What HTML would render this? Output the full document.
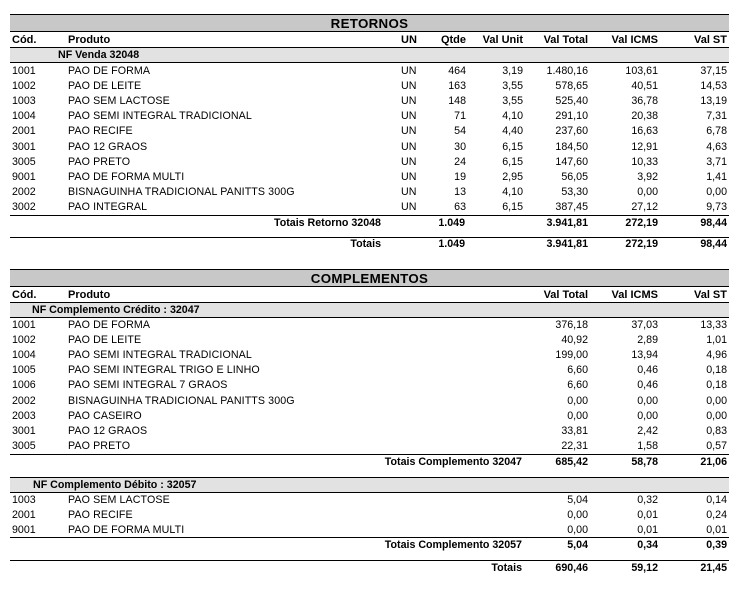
<!DOCTYPE html>
<html><head><meta charset="utf-8">
<style>
html,body{margin:0;padding:0;background:#fff;}
body{width:750px;height:614px;position:relative;overflow:hidden;font-family:"Liberation Sans",Arial,sans-serif;color:#000;}
.t{position:absolute;height:14px;line-height:14px;white-space:nowrap;font-size:10.67px;}
.r{text-align:right;width:140px;}
.b{font-weight:bold;}
.hd{font-weight:bold;font-size:11px;}
.h{position:absolute;left:10px;width:719px;height:1px;background:#000;}
.band{position:absolute;left:10px;width:719px;background:#c8c8c8;}
.nf{position:absolute;left:10px;width:719px;background:#e2e2e2;}
.title{position:absolute;left:10px;width:719px;text-align:center;font-weight:bold;font-size:13.33px;letter-spacing:0.3px;height:16px;line-height:17px;}
</style></head><body>

<!-- RETORNOS -->
<div class="h" style="top:14px"></div>
<div class="band" style="top:15px;height:16px"></div>
<div class="title" style="top:15px">RETORNOS</div>
<div class="h" style="top:31px"></div>

<div class="t hd" style="left:12px;top:33px">Cód.</div>
<div class="t hd" style="left:68px;top:33px">Produto</div>
<div class="t hd" style="left:401px;top:33px">UN</div>
<div class="t hd r" style="left:326px;top:33px">Qtde</div>
<div class="t hd r" style="left:383px;top:33px">Val Unit</div>
<div class="t hd r" style="left:448px;top:33px">Val Total</div>
<div class="t hd r" style="left:518px;top:33px">Val ICMS</div>
<div class="t hd r" style="left:587px;top:33px">Val ST</div>
<div class="h" style="top:47px"></div>
<div class="nf" style="top:48px;height:14px"></div>
<div class="t b" style="left:58px;top:48px">NF Venda 32048</div>
<div class="h" style="top:62px"></div>

<div class="t" style="left:12px;top:64px">1001</div><div class="t" style="left:68px;top:64px;letter-spacing:0.1px">PAO DE FORMA</div><div class="t" style="left:401px;top:64px">UN</div><div class="t r" style="left:326px;top:64px">464</div><div class="t r" style="left:383px;top:64px">3,19</div><div class="t r" style="left:448px;top:64px">1.480,16</div><div class="t r" style="left:518px;top:64px">103,61</div><div class="t r" style="left:587px;top:64px">37,15</div>
<div class="t" style="left:12px;top:79.1px">1002</div><div class="t" style="left:68px;top:79.1px;letter-spacing:0.1px">PAO DE LEITE</div><div class="t" style="left:401px;top:79.1px">UN</div><div class="t r" style="left:326px;top:79.1px">163</div><div class="t r" style="left:383px;top:79.1px">3,55</div><div class="t r" style="left:448px;top:79.1px">578,65</div><div class="t r" style="left:518px;top:79.1px">40,51</div><div class="t r" style="left:587px;top:79.1px">14,53</div>
<div class="t" style="left:12px;top:94.2px">1003</div><div class="t" style="left:68px;top:94.2px;letter-spacing:0.1px">PAO SEM LACTOSE</div><div class="t" style="left:401px;top:94.2px">UN</div><div class="t r" style="left:326px;top:94.2px">148</div><div class="t r" style="left:383px;top:94.2px">3,55</div><div class="t r" style="left:448px;top:94.2px">525,40</div><div class="t r" style="left:518px;top:94.2px">36,78</div><div class="t r" style="left:587px;top:94.2px">13,19</div>
<div class="t" style="left:12px;top:109.3px">1004</div><div class="t" style="left:68px;top:109.3px;letter-spacing:0.1px">PAO SEMI INTEGRAL TRADICIONAL</div><div class="t" style="left:401px;top:109.3px">UN</div><div class="t r" style="left:326px;top:109.3px">71</div><div class="t r" style="left:383px;top:109.3px">4,10</div><div class="t r" style="left:448px;top:109.3px">291,10</div><div class="t r" style="left:518px;top:109.3px">20,38</div><div class="t r" style="left:587px;top:109.3px">7,31</div>
<div class="t" style="left:12px;top:124.4px">2001</div><div class="t" style="left:68px;top:124.4px;letter-spacing:0.1px">PAO RECIFE</div><div class="t" style="left:401px;top:124.4px">UN</div><div class="t r" style="left:326px;top:124.4px">54</div><div class="t r" style="left:383px;top:124.4px">4,40</div><div class="t r" style="left:448px;top:124.4px">237,60</div><div class="t r" style="left:518px;top:124.4px">16,63</div><div class="t r" style="left:587px;top:124.4px">6,78</div>
<div class="t" style="left:12px;top:139.5px">3001</div><div class="t" style="left:68px;top:139.5px;letter-spacing:0.1px">PAO 12 GRAOS</div><div class="t" style="left:401px;top:139.5px">UN</div><div class="t r" style="left:326px;top:139.5px">30</div><div class="t r" style="left:383px;top:139.5px">6,15</div><div class="t r" style="left:448px;top:139.5px">184,50</div><div class="t r" style="left:518px;top:139.5px">12,91</div><div class="t r" style="left:587px;top:139.5px">4,63</div>
<div class="t" style="left:12px;top:154.6px">3005</div><div class="t" style="left:68px;top:154.6px;letter-spacing:0.1px">PAO PRETO</div><div class="t" style="left:401px;top:154.6px">UN</div><div class="t r" style="left:326px;top:154.6px">24</div><div class="t r" style="left:383px;top:154.6px">6,15</div><div class="t r" style="left:448px;top:154.6px">147,60</div><div class="t r" style="left:518px;top:154.6px">10,33</div><div class="t r" style="left:587px;top:154.6px">3,71</div>
<div class="t" style="left:12px;top:169.7px">9001</div><div class="t" style="left:68px;top:169.7px;letter-spacing:0.1px">PAO DE FORMA MULTI</div><div class="t" style="left:401px;top:169.7px">UN</div><div class="t r" style="left:326px;top:169.7px">19</div><div class="t r" style="left:383px;top:169.7px">2,95</div><div class="t r" style="left:448px;top:169.7px">56,05</div><div class="t r" style="left:518px;top:169.7px">3,92</div><div class="t r" style="left:587px;top:169.7px">1,41</div>
<div class="t" style="left:12px;top:184.8px">2002</div><div class="t" style="left:68px;top:184.8px;letter-spacing:0.1px">BISNAGUINHA TRADICIONAL PANITTS 300G</div><div class="t" style="left:401px;top:184.8px">UN</div><div class="t r" style="left:326px;top:184.8px">13</div><div class="t r" style="left:383px;top:184.8px">4,10</div><div class="t r" style="left:448px;top:184.8px">53,30</div><div class="t r" style="left:518px;top:184.8px">0,00</div><div class="t r" style="left:587px;top:184.8px">0,00</div>
<div class="t" style="left:12px;top:199.9px">3002</div><div class="t" style="left:68px;top:199.9px;letter-spacing:0.1px">PAO INTEGRAL</div><div class="t" style="left:401px;top:199.9px">UN</div><div class="t r" style="left:326px;top:199.9px">63</div><div class="t r" style="left:383px;top:199.9px">6,15</div><div class="t r" style="left:448px;top:199.9px">387,45</div><div class="t r" style="left:518px;top:199.9px">27,12</div><div class="t r" style="left:587px;top:199.9px">9,73</div>

<div class="h" style="top:215px"></div>
<div class="t b r" style="left:241px;top:216px">Totais Retorno 32048</div>
<div class="t b r" style="left:325px;top:216px">1.049</div>
<div class="t b r" style="left:448px;top:216px">3.941,81</div>
<div class="t b r" style="left:518px;top:216px">272,19</div>
<div class="t b r" style="left:587px;top:216px">98,44</div>
<div class="h" style="top:237px"></div>
<div class="t b r" style="left:241px;top:237px">Totais</div>
<div class="t b r" style="left:325px;top:237px">1.049</div>
<div class="t b r" style="left:448px;top:237px">3.941,81</div>
<div class="t b r" style="left:518px;top:237px">272,19</div>
<div class="t b r" style="left:587px;top:237px">98,44</div>

<!-- COMPLEMENTOS -->
<div class="h" style="top:269px"></div>
<div class="band" style="top:270px;height:16px"></div>
<div class="title" style="top:270px">COMPLEMENTOS</div>
<div class="h" style="top:286px"></div>

<div class="t hd" style="left:12px;top:288px">Cód.</div>
<div class="t hd" style="left:68px;top:288px">Produto</div>
<div class="t hd r" style="left:448px;top:288px">Val Total</div>
<div class="t hd r" style="left:518px;top:288px">Val ICMS</div>
<div class="t hd r" style="left:587px;top:288px">Val ST</div>
<div class="h" style="top:302px"></div>
<div class="nf" style="top:303px;height:14px"></div>
<div class="t b" style="left:32px;top:303px">NF Complemento Crédito : 32047</div>
<div class="h" style="top:317px"></div>

<div class="t" style="left:12px;top:318px">1001</div><div class="t" style="left:68px;top:318px;letter-spacing:0.1px">PAO DE FORMA</div><div class="t r" style="left:448px;top:318px">376,18</div><div class="t r" style="left:518px;top:318px">37,03</div><div class="t r" style="left:587px;top:318px">13,33</div>
<div class="t" style="left:12px;top:333.1px">1002</div><div class="t" style="left:68px;top:333.1px;letter-spacing:0.1px">PAO DE LEITE</div><div class="t r" style="left:448px;top:333.1px">40,92</div><div class="t r" style="left:518px;top:333.1px">2,89</div><div class="t r" style="left:587px;top:333.1px">1,01</div>
<div class="t" style="left:12px;top:348.2px">1004</div><div class="t" style="left:68px;top:348.2px;letter-spacing:0.1px">PAO SEMI INTEGRAL TRADICIONAL</div><div class="t r" style="left:448px;top:348.2px">199,00</div><div class="t r" style="left:518px;top:348.2px">13,94</div><div class="t r" style="left:587px;top:348.2px">4,96</div>
<div class="t" style="left:12px;top:363.3px">1005</div><div class="t" style="left:68px;top:363.3px;letter-spacing:0.1px">PAO SEMI INTEGRAL TRIGO E LINHO</div><div class="t r" style="left:448px;top:363.3px">6,60</div><div class="t r" style="left:518px;top:363.3px">0,46</div><div class="t r" style="left:587px;top:363.3px">0,18</div>
<div class="t" style="left:12px;top:378.4px">1006</div><div class="t" style="left:68px;top:378.4px;letter-spacing:0.1px">PAO SEMI INTEGRAL 7 GRAOS</div><div class="t r" style="left:448px;top:378.4px">6,60</div><div class="t r" style="left:518px;top:378.4px">0,46</div><div class="t r" style="left:587px;top:378.4px">0,18</div>
<div class="t" style="left:12px;top:393.5px">2002</div><div class="t" style="left:68px;top:393.5px;letter-spacing:0.1px">BISNAGUINHA TRADICIONAL PANITTS 300G</div><div class="t r" style="left:448px;top:393.5px">0,00</div><div class="t r" style="left:518px;top:393.5px">0,00</div><div class="t r" style="left:587px;top:393.5px">0,00</div>
<div class="t" style="left:12px;top:408.6px">2003</div><div class="t" style="left:68px;top:408.6px;letter-spacing:0.1px">PAO CASEIRO</div><div class="t r" style="left:448px;top:408.6px">0,00</div><div class="t r" style="left:518px;top:408.6px">0,00</div><div class="t r" style="left:587px;top:408.6px">0,00</div>
<div class="t" style="left:12px;top:423.7px">3001</div><div class="t" style="left:68px;top:423.7px;letter-spacing:0.1px">PAO 12 GRAOS</div><div class="t r" style="left:448px;top:423.7px">33,81</div><div class="t r" style="left:518px;top:423.7px">2,42</div><div class="t r" style="left:587px;top:423.7px">0,83</div>
<div class="t" style="left:12px;top:438.8px">3005</div><div class="t" style="left:68px;top:438.8px;letter-spacing:0.1px">PAO PRETO</div><div class="t r" style="left:448px;top:438.8px">22,31</div><div class="t r" style="left:518px;top:438.8px">1,58</div><div class="t r" style="left:587px;top:438.8px">0,57</div>

<div class="h" style="top:454px"></div>
<div class="t b r" style="left:382px;top:455px">Totais Complemento 32047</div>
<div class="t b r" style="left:448px;top:455px">685,42</div>
<div class="t b r" style="left:518px;top:455px">58,78</div>
<div class="t b r" style="left:587px;top:455px">21,06</div>

<div class="h" style="top:477px"></div>
<div class="nf" style="top:478px;height:14px"></div>
<div class="t b" style="left:33px;top:478px">NF Complemento Débito : 32057</div>
<div class="h" style="top:492px"></div>

<div class="t" style="left:12px;top:492.5px">1003</div><div class="t" style="left:68px;top:492.5px;letter-spacing:0.1px">PAO SEM LACTOSE</div><div class="t r" style="left:448px;top:492.5px">5,04</div><div class="t r" style="left:518px;top:492.5px">0,32</div><div class="t r" style="left:587px;top:492.5px">0,14</div>
<div class="t" style="left:12px;top:507.6px">2001</div><div class="t" style="left:68px;top:507.6px;letter-spacing:0.1px">PAO RECIFE</div><div class="t r" style="left:448px;top:507.6px">0,00</div><div class="t r" style="left:518px;top:507.6px">0,01</div><div class="t r" style="left:587px;top:507.6px">0,24</div>
<div class="t" style="left:12px;top:522.7px">9001</div><div class="t" style="left:68px;top:522.7px;letter-spacing:0.1px">PAO DE FORMA MULTI</div><div class="t r" style="left:448px;top:522.7px">0,00</div><div class="t r" style="left:518px;top:522.7px">0,01</div><div class="t r" style="left:587px;top:522.7px">0,01</div>

<div class="h" style="top:537px"></div>
<div class="t b r" style="left:382px;top:538px">Totais Complemento 32057</div>
<div class="t b r" style="left:448px;top:538px">5,04</div>
<div class="t b r" style="left:518px;top:538px">0,34</div>
<div class="t b r" style="left:587px;top:538px">0,39</div>
<div class="h" style="top:560px"></div>
<div class="t b r" style="left:382px;top:561px">Totais</div>
<div class="t b r" style="left:448px;top:561px">690,46</div>
<div class="t b r" style="left:518px;top:561px">59,12</div>
<div class="t b r" style="left:587px;top:561px">21,45</div>

</body></html>
